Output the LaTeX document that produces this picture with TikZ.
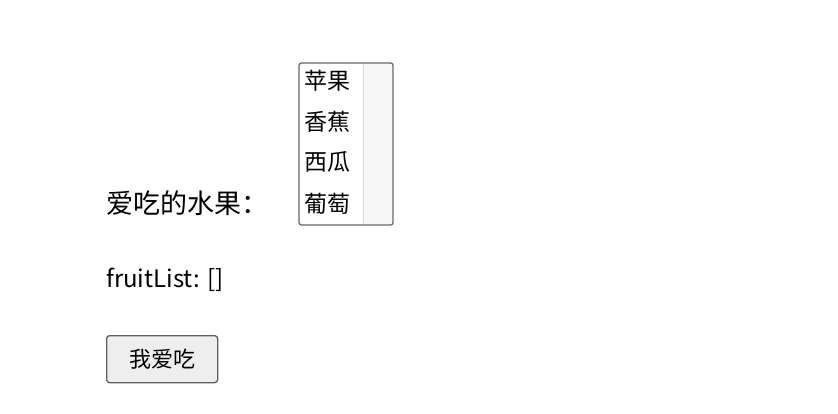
\documentclass[tikz,border=0pt]{standalone}
\usepackage{fontspec}
\setmainfont{Noto Sans CJK SC}
\begin{document}
\begin{tikzpicture}[x=1pt,y=-1pt,
  txt/.style={inner sep=0pt,anchor=west,font=\fontsize{24}{24}\selectfont},
  item/.style={inner sep=0pt,anchor=west,font=\fontsize{23}{23}\selectfont}]
\useasboundingbox (0,0) rectangle (838,414);
\fill[white] (0,0) rectangle (838,414);
% listbox
\draw[fill=white,draw=gray!80!black,line width=1.3pt,rounded corners=2.5pt] (299,63) rectangle (393,225);
\fill[gray!6] (363,64) rectangle (392,224);
\draw[gray!30,line width=0.8pt] (363,64) -- (363,224);
\node[item] (i1) at (304,81) {苹果};
\node[item] (i2) at (304,122) {香蕉};
\node[item] (i3) at (304,162) {西瓜};
\node[item] (i4) at (304,204) {葡萄};
\node[txt,font=\fontsize{27}{27}\selectfont] (lab) at (106,203) {爱吃的水果：};
\node[txt] (fl) at (106,280) {fruitList: []};
\node[draw=gray!75!black,fill=gray!13,line width=1.3pt,rounded corners=3pt,minimum width=111pt,minimum height=47pt,inner sep=0pt,anchor=north west,font=\fontsize{22}{22}\selectfont] (btn) at (106,335) {我爱吃};
\end{tikzpicture}
\end{document}
